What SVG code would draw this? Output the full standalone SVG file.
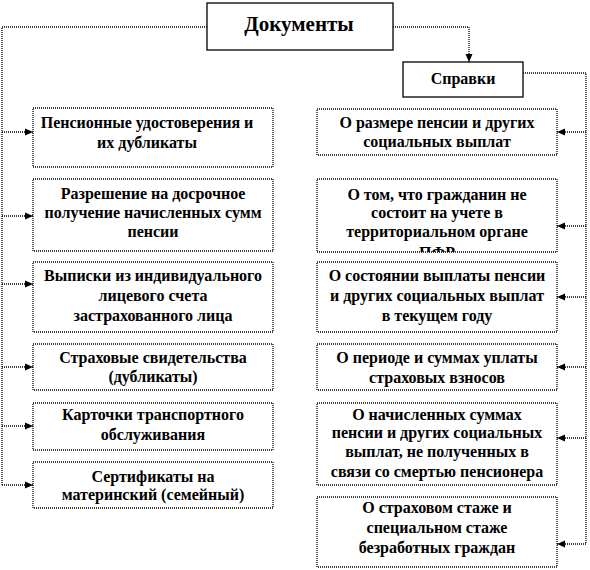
<svg xmlns="http://www.w3.org/2000/svg" width="590" height="570" viewBox="0 0 590 570">
<style>
.solid{fill:#fff;stroke:#000;stroke-width:1.3}
.box{fill:#fff;stroke:#000;stroke-width:1.3;stroke-dasharray:1 1}
.con{fill:none;stroke:#000;stroke-width:1.3;stroke-dasharray:1 1}
text{font-weight:bold;font-size:16px;text-anchor:middle;fill:#000}
.big{font-size:21px}
.mid{font-size:16px}
</style>
<defs>
<marker id="ah" viewBox="0 0 8 8" refX="8" refY="4" markerWidth="8" markerHeight="8" markerUnits="userSpaceOnUse" orient="auto">
<path d="M0,0.5 L8,4 L0,7.5 Z" fill="#000"/>
</marker>
<clipPath id="clipR2"><rect x="317" y="179" width="240" height="73"/></clipPath>
</defs>
<rect width="590" height="570" fill="#fff"/>
<g id="connectors">
<path class="con" d="M207,27 H2 V485"/>
<path class="con" d="M2,132 H33" marker-end="url(#ah)"/>
<path class="con" d="M2,216 H33" marker-end="url(#ah)"/>
<path class="con" d="M2,284 H33" marker-end="url(#ah)"/>
<path class="con" d="M2,367 H33" marker-end="url(#ah)"/>
<path class="con" d="M2,426 H33" marker-end="url(#ah)"/>
<path class="con" d="M2,485 H33" marker-end="url(#ah)"/>
<path class="con" d="M393,27 H469 V62" marker-end="url(#ah)"/>
<path class="con" d="M523,73 H586 V544"/>
<path class="con" d="M586,132 H557" marker-end="url(#ah)"/>
<path class="con" d="M586,226 H557" marker-end="url(#ah)"/>
<path class="con" d="M586,297 H557" marker-end="url(#ah)"/>
<path class="con" d="M586,367 H557" marker-end="url(#ah)"/>
<path class="con" d="M586,438 H557" marker-end="url(#ah)"/>
<path class="con" d="M586,544 H557" marker-end="url(#ah)"/>
</g>
<g font-family="Liberation Serif, DejaVu Serif, serif">
<g id="documents">
<rect class="solid" x="207" y="3" width="186" height="47"/>
<text class="big" x="299" y="31">Документы</text>
</g>
<g id="spravki">
<rect class="solid" x="403" y="62" width="120" height="35"/>
<text class="mid" x="463" y="84">Справки</text>
</g>
<g id="l1">
<rect class="box" x="33" y="108" width="240" height="59"/>
<text x="147" y="128">Пенсионные удостоверения и</text>
<text x="147" y="148">их дубликаты</text>
</g>
<g id="l2">
<rect class="box" x="33" y="179" width="240" height="72"/>
<text x="153" y="199">Разрешение на досрочное</text>
<text x="153" y="218">получение начисленных сумм</text>
<text x="153" y="237">пенсии</text>
</g>
<g id="l3">
<rect class="box" x="33" y="262" width="240" height="70"/>
<text x="153" y="281">Выписки из индивидуального</text>
<text x="153" y="301">лицевого счета</text>
<text x="153" y="321">застрахованного  лица</text>
</g>
<g id="l4">
<rect class="box" x="33" y="344" width="240" height="46"/>
<text x="153" y="363">Страховые свидетельства</text>
<text x="153" y="382">(дубликаты)</text>
</g>
<g id="l5">
<rect class="box" x="33" y="403" width="240" height="47"/>
<text x="153" y="420">Карточки транспортного</text>
<text x="153" y="440">обслуживания</text>
</g>
<g id="l6">
<rect class="box" x="33" y="462" width="240" height="46"/>
<text x="153" y="482">Сертификаты на</text>
<text x="153" y="500">материнский (семейный)</text>
</g>
<g id="r1">
<rect class="box" x="317" y="109" width="240" height="46"/>
<text x="437" y="128">О размере пенсии и других</text>
<text x="437" y="147">социальных выплат</text>
</g>
<g id="r2">
<rect class="box" x="317" y="179" width="240" height="73"/>
<text x="437" y="200">О том, что гражданин  не</text>
<text x="437" y="218">состоит на учете в</text>
<text x="437" y="237">территориальном  органе</text>
<text x="437" y="258" clip-path="url(#clipR2)">ПФР</text>
</g>
<g id="r3">
<rect class="box" x="317" y="262" width="240" height="70"/>
<text x="437" y="281">О состоянии выплаты пенсии</text>
<text x="437" y="301">и других  социальных выплат</text>
<text x="437" y="321">в текущем году</text>
</g>
<g id="r4">
<rect class="box" x="317" y="344" width="240" height="46"/>
<text x="437" y="363">О периоде и суммах уплаты</text>
<text x="437" y="383">страховых взносов</text>
</g>
<g id="r5">
<rect class="box" x="317" y="403" width="240" height="82"/>
<text x="437" y="420">О начисленных суммах</text>
<text x="437" y="438">пенсии и других  социальных</text>
<text x="437" y="457">выплат, не полученных в</text>
<text x="437" y="477">связи со смертью пенсионера</text>
</g>
<g id="r6">
<rect class="box" x="317" y="497" width="240" height="70"/>
<text x="437" y="513">О страховом стаже и</text>
<text x="437" y="533">специальном стаже</text>
<text x="437" y="553">безработных граждан</text>
</g>
</g>
</svg>
